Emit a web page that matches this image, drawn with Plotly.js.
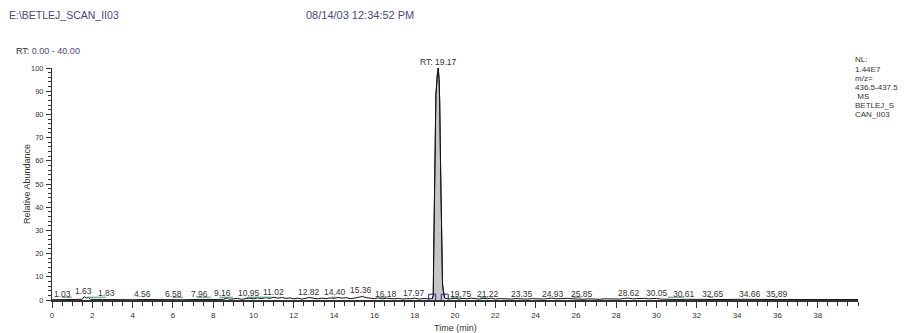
<!DOCTYPE html>
<html>
<head>
<meta charset="utf-8">
<script src="https://cdn.plot.ly/plotly-3.0.1.min.js"></script>
<style>html,body{margin:0;padding:0;background:#fff;}#chart{width:909px;height:333px;}</style>
</head>
<body>
<div id="chart"></div>
<script>
// Retention time (min) and relative abundance (%) of the chromatogram trace
const RT = [0,0.5,1.0,1.5,1.6,1.7,1.8,1.9,2.5,3,3.5,4,4.5,5,5.5,6,6.5,7,7.5,8,8.5,8.7,8.8,9,9.2,9.4,9.6,9.8,
  10,10.2,10.4,10.6,10.8,11,11.2,11.4,11.6,11.8,12,12.2,12.4,12.6,12.8,13,13.2,13.4,13.6,13.8,14,14.2,14.4,14.6,14.8,
  15,15.2,15.4,15.6,15.8,16,16.2,16.4,16.6,16.8,17,17.2,17.4,17.6,17.8,18,18.2,18.4,18.6,18.8,18.87,
  18.92,18.94,18.97,19.01,19.05,19.12,19.17,19.21,19.24,19.28,19.32,19.35,19.38,19.42,19.46,19.49,
  19.6,19.8,20,20.2,20.4,20.6,20.8,21,21.2,21.4,21.6,21.8,22,22.2,22.4,22.6,22.8,23,23.2,23.4,23.6,23.8,
  24,24.2,24.4,24.6,24.8,25,25.2,25.4,25.6,25.8,26,26.2,26.4,26.6,26.8,27,27.2,27.4,27.6,27.8,
  28,28.2,28.4,28.6,28.8,29,29.2,29.4,29.6,29.8,30,30.2,30.4,30.6,31,31.5,32,32.5,33,33.5,34,34.5,35,35.5,36,36.5,37,37.5,38,38.5,39,39.5,40];
const ABUNDANCE = [0.1,0.1,0.2,0.3,1.4,0.8,1.1,0.3,0.2,0.1,0.2,0.1,0.2,0.1,0.1,0.2,0.1,0.2,0.1,0.2,0.3,0.9,0.3,0.4,0.7,0.3,0.5,0.8,
  0.5,0.9,0.6,1.0,0.7,1.2,0.8,1.1,0.7,0.9,0.5,0.8,0.4,0.9,1.1,0.7,0.5,0.8,0.6,0.9,0.7,1.1,0.8,1.0,0.6,
  0.8,1.3,1.5,1.0,0.7,0.6,0.9,0.5,0.8,0.6,0.5,0.7,0.4,0.6,0.5,0.8,0.4,0.6,0.5,0.6,0.5,
  2,20,45,70,88,97,100,95,86,60,35,15,7,4,1.5,0.8,
  0.6,0.5,0.8,0.4,0.7,0.5,0.8,0.6,0.4,0.7,0.5,0.8,0.4,0.6,0.5,0.7,0.4,0.6,0.5,0.7,0.4,0.6,
  0.5,0.7,0.4,0.6,0.8,0.5,0.6,0.4,0.7,0.5,0.4,0.6,0.3,0.5,0.4,0.6,0.3,0.5,0.4,0.3,
  0.5,0.4,0.7,0.8,0.5,0.6,0.4,0.7,0.5,0.6,0.7,0.4,0.3,0.4,0.2,0.3,0.2,0.3,0.2,0.2,0.3,0.2,0.2,0.3,0.2,0.2,0.3,0.2,0.2,0.2,0.2,0.2,0.2];

// Integrated peak boundaries
const PEAK_START = 18.87;
const PEAK_END = 19.49;
const PEAK_RT = 19.17;

// Peak labels: text, drawn position (min), height (%)
const LABEL_TEXT = ["1.03","1.63","1.83","4.56","6.58","7.96","9.16","10.95","11.02","12.82","14.40","15.36","16.18","17.97",
  "19.75","21.22","23.35","24.93","25.85","28.62","30.05","30.61","32.65","34.66","35.89"];
const LABEL_X = [0.53,1.57,2.70,4.50,6.04,7.31,8.47,9.76,11.0,12.74,14.03,15.32,16.6,17.95,
  20.32,21.66,23.3,24.85,26.3,28.62,30.02,31.34,32.8,34.63,36.0];
const LABEL_Y = [2.6,3.7,3.0,2.6,2.6,2.6,2.9,2.9,3.6,3.6,3.4,4.2,2.4,3.2,
  2.5,2.7,2.6,2.6,2.6,3.2,3.2,2.6,2.6,2.8,2.8];

// Detected baseline segments (green)
const GREEN_START = [0.48,1.72,5.99,7.18,8.32,9.66,13.88,16.16,19.82,21.23,25.84,30.56,32.6,35.87];
const GREEN_END   = [0.98,2.67,6.49,7.88,8.97,10.9,14.14,16.61,20.32,21.63,26.27,31.35,32.8,36.0];

// Axis ticks
const X_TICKS = [0,2,4,6,8,10,12,14,16,18,20,22,24,26,28,30,32,34,36,38];
const Y_TICKS = [0,10,20,30,40,50,60,70,80,90,100];

// Side info block
const INFO_LINES = ["NL:","1.44E7","m/z=","436.5-437.5","\u00a0MS","BETLEJ_S","CAN_II03"];

const FONT = "Liberation Sans, Arial, sans-serif";
const TXT = "#333333";

// peak sub-series (between boundaries)
const peakX = [], peakY = [];
RT.forEach((t,i)=>{ if (t >= PEAK_START && t <= PEAK_END){ peakX.push(t); peakY.push(ABUNDANCE[i]); } });

const gx = [], gy = [];
GREEN_START.forEach((s,i)=>{ gx.push(s, GREEN_END[i], null); gy.push(1.2, 1.2, null); });

const traces = [
  {x: peakX, y: peakY, type:'scatter', mode:'lines', fill:'tozeroy', fillcolor:'#c6c6c6',
   line:{color:'#222', width:1}, hoverinfo:'skip', showlegend:false},
  {x: RT, y: ABUNDANCE, type:'scatter', mode:'lines', line:{color:'#111', width:1}, showlegend:false, cliponaxis:false},
  {x: gx, y: gy, type:'scatter', mode:'lines', line:{color:'#3f9a60', width:1}, showlegend:false},
  {x: [PEAK_START, PEAK_END], y:[1,1], type:'scatter', mode:'markers',
   marker:{symbol:'square-open', size:7, color:'#2020a0', line:{width:1, color:'#2020a0'}}, showlegend:false, cliponaxis:false}
];

const L = 52, R = 858, T = 68, B = 300;
const W = R - L, H = B - T;
const px = v => (v - L) / W;
const py = v => (B - v) / H;

const annotations = [];
LABEL_TEXT.forEach((s,i)=>annotations.push({x:LABEL_X[i], y:LABEL_Y[i], xref:'x', yref:'y', text:s, showarrow:false,
  xanchor:'center', yanchor:'middle', borderpad:0, font:{family:FONT, size:8.5, color:TXT}}));
annotations.push({x:PEAK_RT, y:py(62), xref:'x', yref:'paper', text:'RT: ' + PEAK_RT.toFixed(2), showarrow:false,
  xanchor:'center', yanchor:'middle', borderpad:0, font:{family:FONT, size:8.5, color:TXT}});
annotations.push({x:px(8), y:py(15), xref:'paper', yref:'paper', text:'E:\\BETLEJ_SCAN_II03', showarrow:false,
  xanchor:'left', yanchor:'middle', borderpad:0, font:{family:FONT, size:10.5, color:'#4a4a80'}});
annotations.push({x:px(305), y:py(15), xref:'paper', yref:'paper', text:'08/14/03 12:34:52 PM', showarrow:false,
  xanchor:'left', yanchor:'middle', borderpad:0, font:{family:FONT, size:11, color:'#4a4a80'}});
annotations.push({x:px(15), y:py(51), xref:'paper', yref:'paper',
  text:'<span style="color:#333">RT:</span> 0.00 - 40.00', showarrow:false,
  xanchor:'left', yanchor:'middle', borderpad:0, font:{family:FONT, size:9, color:'#4a4a80'}});
annotations.push({x:px(27), y:0.5, xref:'paper', yref:'paper', text:'Relative Abundance', textangle:-90, showarrow:false,
  xanchor:'center', yanchor:'middle', borderpad:0, font:{family:FONT, size:9, color:TXT}});
annotations.push({x:px(455), y:py(328), xref:'paper', yref:'paper', text:'Time (min)', showarrow:false,
  xanchor:'center', yanchor:'middle', borderpad:0, font:{family:FONT, size:9, color:TXT}});
INFO_LINES.forEach((s,i)=>annotations.push({x:px(854), y:py(60 + i*9), xref:'paper', yref:'paper', text:s, showarrow:false,
  xanchor:'left', yanchor:'middle', borderpad:0, font:{family:FONT, size:8, color:TXT}}));

const layout = {
  width:909, height:333,
  margin:{l:L, r:909-R, t:T, b:333-B, pad:0},
  paper_bgcolor:'#fff', plot_bgcolor:'#fff',
  showlegend:false,
  xaxis:{range:[0,40], tickmode:'array', tickvals:X_TICKS, ticktext:X_TICKS.map(String),
    showline:true, linecolor:'#333', linewidth:2, ticks:'outside', ticklen:6, tickcolor:'#333', tickwidth:1,
    minor:{dtick:0.5, tick0:0, ticklen:4, tickcolor:'#333', tickwidth:1, ticks:'outside', showgrid:false},
    showgrid:false, zeroline:false, tickfont:{family:FONT, size:8, color:TXT}, fixedrange:true},
  yaxis:{range:[0,100], tickmode:'array', tickvals:Y_TICKS, ticktext:Y_TICKS.map(String),
    showline:true, linecolor:'#333', linewidth:1, ticks:'outside', ticklen:5, tickcolor:'#333', tickwidth:1,
    minor:{dtick:2, tick0:0, ticklen:3, tickcolor:'#333', tickwidth:1, ticks:'outside', showgrid:false},
    showgrid:false, zeroline:false, tickfont:{family:FONT, size:7.5, color:TXT}, ticklabelstandoff:1, fixedrange:true},
  annotations: annotations
};

Plotly.newPlot('chart', traces, layout, {displayModeBar:false, staticPlot:true});
</script>
</body>
</html>
